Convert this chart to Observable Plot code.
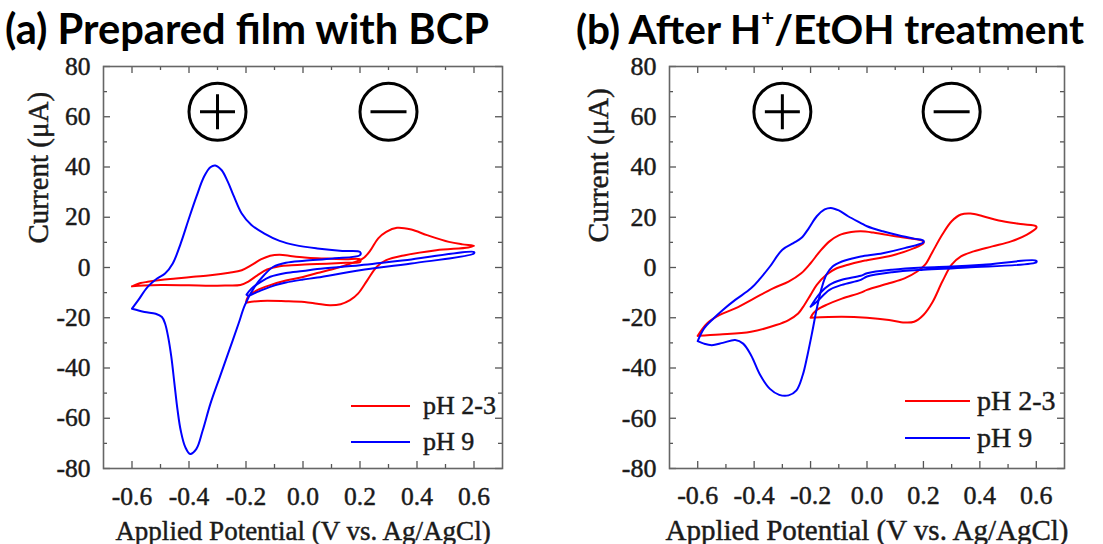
<!DOCTYPE html>
<html>
<head>
<meta charset="utf-8">
<script src="https://cdn.jsdelivr.net/npm/d3@7"></script>
<script src="https://cdn.jsdelivr.net/npm/@observablehq/plot@0.6"></script>
<style>
  html, body { margin: 0; padding: 0; background: #fff; }
  #root { position: relative; width: 1103px; height: 544px; overflow: hidden; background: #fff; }
  .chart { position: absolute; top: 50px; }
  .titles { position: absolute; left: 0; top: 0; pointer-events: none; }
</style>
</head>
<body>
<div id="root"></div>
<script>
// ---------------- data ----------------
const xMajor = [-0.6, -0.4, -0.2, 0, 0.2, 0.4, 0.6];
const xMinor = [-0.5, -0.3, -0.1, 0.1, 0.3, 0.5];
const yMajor = [-80, -60, -40, -20, 0, 20, 40, 60, 80];
const yMinor = [-70, -50, -30, -10, 10, 30, 50, 70];
const seriesNames = ["pH 2-3", "pH 9"];
const seriesColors = ["#ff0000", "#0000ff"];
const signX = [-0.3, 0.3];
const signY = [62, 62];
const signKinds = ["plus", "minus"];
const panelTitles = ["(a) Prepared film with BCP", "(b) After H+/EtOH treatment"];
const xTitle = "Applied Potential (V vs. Ag/AgCl)";
const yTitle = "Current (\u03bcA)";

// Panel (a): prepared film with BCP
const a_pH23_neg = [[-0.6,-7.5],[-0.57,-6.2],[-0.545,-5.7],[-0.5,-5.0],[-0.446,-4.4],[-0.385,-3.7],[-0.325,-3.1],[-0.259,-2.1],[-0.215,-1.1],[-0.181,0.9],[-0.148,3.2],[-0.115,4.7],[-0.082,5.1],[-0.038,4.5],[0.006,4.0],[0.05,3.7],[0.1,3.5],[0.15,3.3],[0.2,3.2],
  [0.2,2.2],[0.15,1.9],[0.1,1.6],[0.05,1.4],[0.006,1.2],[-0.04,0.9],[-0.082,0.5],[-0.126,-0.8],[-0.16,-3.1],[-0.193,-5.7],[-0.22,-7.0],[-0.27,-7.2],[-0.325,-7.3],[-0.4,-7.1],[-0.5,-7.0],[-0.56,-7.2],[-0.6,-7.5]];
const a_pH23_pos = [[-0.2,-14.0],[-0.193,-11.7],[-0.16,-9.0],[-0.115,-7.0],[-0.06,-5.2],[0.0,-3.8],[0.05,-2.2],[0.1,-0.8],[0.16,1.3],[0.193,2.6],[0.215,4.0],[0.237,6.9],[0.264,11.6],[0.292,14.2],[0.33,15.8],[0.38,15.1],[0.435,12.9],[0.512,10.2],[0.56,9.2],[0.6,8.6],
  [0.58,8.0],[0.468,6.9],[0.358,4.9],[0.292,2.9],[0.259,0.3],[0.226,-5.0],[0.193,-10.4],[0.165,-13.0],[0.132,-14.6],[0.094,-15.0],[0.05,-14.4],[0.005,-13.7],[-0.06,-13.4],[-0.148,-13.3],[-0.2,-14.0]];
const a_pH9_neg = [[-0.6,-16.4],[-0.578,-13.0],[-0.545,-7.7],[-0.512,-4.4],[-0.484,-2.4],[-0.457,1.6],[-0.429,9.6],[-0.402,18.9],[-0.374,28.2],[-0.347,36.2],[-0.325,39.9],[-0.308,40.6],[-0.286,38.8],[-0.264,34.2],[-0.242,28.2],[-0.215,21.5],[-0.181,16.9],[-0.137,13.6],[-0.082,10.6],[-0.027,8.9],[0.05,7.6],[0.138,6.6],[0.2,6.2],
  [0.2,4.9],[0.105,3.6],[0.005,2.7],[-0.06,1.9],[-0.104,0.3],[-0.137,-3.1],[-0.17,-7.7],[-0.204,-15.0],[-0.226,-22.3],[-0.259,-33.0],[-0.292,-43.6],[-0.325,-54.3],[-0.352,-64.9],[-0.374,-72.2],[-0.396,-74.2],[-0.413,-71.5],[-0.429,-64.9],[-0.44,-56.9],[-0.451,-46.3],[-0.462,-35.6],[-0.473,-27.7],[-0.484,-22.3],[-0.495,-19.7],[-0.517,-18.4],[-0.556,-17.7],[-0.6,-16.4]];
const a_pH9_pos = [[-0.198,-10.8],[-0.181,-8.4],[-0.148,-5.7],[-0.115,-3.7],[-0.06,-2.2],[0.0,-1.4],[0.05,-0.6],[0.2,0.9],[0.38,3.2],[0.6,6.2],
  [0.6,5.6],[0.38,1.6],[0.2,-1.1],[0.05,-4.0],[0.0,-4.8],[-0.06,-6.0],[-0.115,-7.7],[-0.16,-9.7],[-0.193,-11.2],[-0.198,-10.8]];

// Panel (b): after H+/EtOH treatment
const b_pH23_neg = [[-0.6,-27.2],[-0.567,-22.3],[-0.522,-18.9],[-0.467,-16.3],[-0.4,-12.3],[-0.333,-8.3],[-0.278,-5.6],[-0.233,-2.3],[-0.2,1.7],[-0.167,6.4],[-0.133,10.4],[-0.1,12.8],[-0.056,14.1],[-0.022,14.4],[0.022,13.9],[0.1,12.4],[0.2,10.4],
  [0.2,9.7],[0.167,7.7],[0.089,4.8],[0.0,2.9],[-0.022,2.4],[-0.067,1.1],[-0.111,-0.5],[-0.144,-2.9],[-0.178,-6.9],[-0.2,-10.9],[-0.222,-14.9],[-0.244,-18.3],[-0.278,-20.9],[-0.322,-22.9],[-0.411,-25.6],[-0.522,-26.7],[-0.6,-27.2]];
const b_pH23_pos = [[-0.2,-20.0],[-0.19,-18.2],[-0.178,-16.9],[-0.144,-14.9],[-0.089,-12.4],[-0.022,-10.0],[0.0,-8.9],[0.078,-6.3],[0.133,-4.3],[0.178,-1.6],[0.206,1.1],[0.233,6.4],[0.267,13.1],[0.3,18.4],[0.333,21.1],[0.367,21.5],[0.411,20.4],[0.467,18.7],[0.544,17.3],[0.6,16.4],
  [0.6,15.7],[0.567,13.1],[0.511,10.4],[0.444,8.4],[0.378,6.4],[0.333,4.4],[0.3,1.1],[0.267,-5.6],[0.233,-13.6],[0.2,-18.9],[0.167,-21.6],[0.133,-21.9],[0.078,-20.9],[0.0,-20.0],[-0.089,-19.6],[-0.2,-20.0]];
const b_pH9_neg = [[-0.6,-29.3],[-0.578,-24.3],[-0.544,-20.3],[-0.511,-16.9],[-0.467,-12.9],[-0.411,-8.3],[-0.378,-4.3],[-0.344,0.4],[-0.3,7.1],[-0.261,9.7],[-0.233,11.7],[-0.206,15.7],[-0.178,20.4],[-0.15,23.1],[-0.128,23.7],[-0.1,22.7],[-0.067,20.4],[-0.022,17.7],[0.0,16.4],[0.056,14.4],[0.111,12.8],[0.167,11.5],[0.2,10.7],
  [0.2,10.0],[0.133,7.7],[0.056,5.7],[-0.022,4.4],[-0.056,3.5],[-0.089,2.4],[-0.122,0.4],[-0.144,-2.9],[-0.161,-8.3],[-0.178,-16.3],[-0.194,-25.6],[-0.211,-34.9],[-0.228,-42.9],[-0.25,-48.9],[-0.278,-50.9],[-0.311,-50.7],[-0.344,-48.3],[-0.378,-42.9],[-0.411,-34.9],[-0.439,-30.3],[-0.467,-28.9],[-0.511,-30.0],[-0.55,-30.9],[-0.578,-30.3],[-0.6,-29.3]];
const b_pH9_pos = [[-0.2,-15.6],[-0.167,-10.3],[-0.133,-6.9],[-0.089,-4.9],[-0.022,-3.3],[0.0,-2.3],[0.089,-0.9],[0.2,0.0],[0.3,0.4],[0.411,1.1],[0.6,2.7],
  [0.6,2.1],[0.356,0.0],[0.2,-0.9],[0.089,-1.9],[0.0,-3.6],[-0.022,-4.9],[-0.089,-6.9],[-0.133,-8.9],[-0.178,-13.6],[-0.2,-15.6]];

// ---------------- build ----------------
function toRows(loops) {
  return loops.flatMap(([series, loop, pts]) => pts.map(([x, y]) => ({x, y, series, loop})));
}
const rowsA = toRows([[seriesNames[0], "neg", a_pH23_neg], [seriesNames[0], "pos", a_pH23_pos],
                      [seriesNames[1], "neg", a_pH9_neg], [seriesNames[1], "pos", a_pH9_pos]]);
const rowsB = toRows([[seriesNames[0], "neg", b_pH23_neg], [seriesNames[0], "pos", b_pH23_pos],
                      [seriesNames[1], "neg", b_pH9_neg], [seriesNames[1], "pos", b_pH9_pos]]);
const signs = signX.map((x, i) => ({x, y: signY[i], kind: signKinds[i]}));

const plusSymbol = {draw(ctx, size) { const r = Math.sqrt(size / Math.PI); ctx.moveTo(-r, 0); ctx.lineTo(r, 0); ctx.moveTo(0, -r); ctx.lineTo(0, r); }};
const minusSymbol = {draw(ctx, size) { const r = Math.sqrt(size / Math.PI); ctx.moveTo(-r, 0); ctx.lineTo(r, 0); }};

const serif = "Liberation Serif, Times New Roman, serif";
const textColor = "#1a1a1a";
const textStroke = 0.45;
const fmtX = d => d.toFixed(1);
const fmtY = d => String(d);

function legendMark(L) {
  return (index, scales, values, dims) => {
    const g = d3.create("svg:g");
    const right = dims.width - dims.marginRight;
    const bottom = dims.height - dims.marginBottom;
    seriesNames.forEach((name, i) => {
      const y = bottom + L.rows[i];
      g.append("line")
        .attr("x1", right + L.x1).attr("x2", right + L.x2)
        .attr("y1", y).attr("y2", y)
        .attr("stroke", seriesColors[i]).attr("stroke-width", 2);
      g.append("text")
        .attr("x", right + L.tx).attr("y", y).attr("dy", "0.32em")
        .attr("text-anchor", "start")
        .style("font-family", serif).style("font-size", L.fontSize + "px")
        .attr("fill", textColor).attr("stroke", textColor).attr("stroke-width", textStroke)
        .text(name);
    });
    return g.node();
  };
}

function makePanel(rows, P) {
  const innerW = P.width - P.marginLeft - P.marginRight;
  const innerH = P.height - P.marginTop - P.marginBottom;
  const tickColor = "#555";
  const txt = {fontFamily: serif, fill: textColor, stroke: textColor, strokeWidth: textStroke};
  return Plot.plot({
    width: P.width, height: P.height,
    marginTop: P.marginTop, marginBottom: P.marginBottom,
    marginLeft: P.marginLeft, marginRight: P.marginRight,
    style: {fontFamily: serif, fontSize: P.tickFont + "px", color: textColor, background: "transparent", overflow: "visible"},
    x: {domain: [-0.7, 0.7], axis: null},
    y: {domain: [-80, 80], axis: null},
    color: {domain: seriesNames, range: seriesColors},
    marks: [
      // inward ticks on all four sides
      Plot.tickX(xMajor, {x: d => d, insetTop: innerH - 7, stroke: tickColor, strokeWidth: 1.3}),
      Plot.tickX(xMinor, {x: d => d, insetTop: innerH - 4, stroke: tickColor, strokeWidth: 1.3}),
      Plot.tickX(xMajor, {x: d => d, insetBottom: innerH - 7, stroke: tickColor, strokeWidth: 1.3}),
      Plot.tickX(xMinor, {x: d => d, insetBottom: innerH - 4, stroke: tickColor, strokeWidth: 1.3}),
      Plot.tickY(yMajor, {y: d => d, insetRight: innerW - 7, stroke: tickColor, strokeWidth: 1.3}),
      Plot.tickY(yMinor, {y: d => d, insetRight: innerW - 4, stroke: tickColor, strokeWidth: 1.3}),
      Plot.tickY(yMajor, {y: d => d, insetLeft: innerW - 7, stroke: tickColor, strokeWidth: 1.3}),
      Plot.tickY(yMinor, {y: d => d, insetLeft: innerW - 4, stroke: tickColor, strokeWidth: 1.3}),
      Plot.frame({stroke: "#666", strokeWidth: 1.6}),
      // CV curves
      Plot.line(rows, {x: "x", y: "y", z: d => d.series + "/" + d.loop, stroke: "series",
                       strokeWidth: 2, curve: "catmull-rom"}),
      // circled + and − signs
      Plot.dot(signs, {x: "x", y: "y", r: 28.5, fill: "none", stroke: "black", strokeWidth: 3}),
      Plot.dot(signs.filter(d => d.kind === "plus"), {x: "x", y: "y", r: 17.5, symbol: plusSymbol, fill: "none", stroke: "black", strokeWidth: 3}),
      Plot.dot(signs.filter(d => d.kind === "minus"), {x: "x", y: "y", r: 18, symbol: minusSymbol, fill: "none", stroke: "black", strokeWidth: 3}),
      // tick labels (ticks themselves drawn inward above)
      Plot.text(xMajor, {x: d => d, text: fmtX, frameAnchor: "bottom", dy: P.xLabelDy, lineAnchor: "bottom",
                         fontSize: P.tickFont, ...txt}),
      Plot.text(yMajor, {y: d => d, text: fmtY, frameAnchor: "left", dx: -13, textAnchor: "end", lineAnchor: "middle",
                         fontSize: P.tickFont, ...txt}),
      // axis titles
      Plot.text([xTitle], {text: d => d, frameAnchor: "bottom", dy: 71, lineAnchor: "bottom",
                           fontSize: P.xTitleFont, ...txt}),
      Plot.text([yTitle], {text: d => d, frameAnchor: "left", dx: P.yTitleDx, dy: P.yTitleDy,
                           rotate: -90, lineAnchor: "middle", fontSize: P.yTitleFont, ...txt}),
      // legend
      legendMark(P.legend)
    ]
  });
}

const root = document.getElementById("root");

const panelA = {left: 0, width: 552, height: 494, marginTop: 16, marginBottom: 76, marginLeft: 103, marginRight: 50,
  tickFont: 25.5, xLabelDy: 36, xTitleFont: 27, yTitleFont: 29, yTitleDx: -65, yTitleDy: -24,
  legend: {rows: [-62, -26], x1: -151, x2: -92, tx: -79, fontSize: 26}};
const panelB = {left: 552, width: 551, height: 494, marginTop: 16, marginBottom: 76, marginLeft: 117, marginRight: 39,
  tickFont: 26, xLabelDy: 35, xTitleFont: 29, yTitleFont: 29.5, yTitleDx: -71, yTitleDy: -25,
  legend: {rows: [-67, -30], x1: -159, x2: -94, tx: -87, fontSize: 28}};

[[rowsA, panelA], [rowsB, panelB]].forEach(([rows, P]) => {
  const div = document.createElement("div");
  div.className = "chart";
  div.style.left = P.left + "px";
  div.style.width = P.width + "px";
  div.appendChild(makePanel(rows, P));
  root.appendChild(div);
});

// Panel titles (above the plots)
const titleSvg = d3.create("svg").attr("class", "titles").attr("width", 1103).attr("height", 56);
const titleFont = "Lato, 'Open Sans', 'DejaVu Sans', sans-serif";
const tA = titleSvg.append("text").attr("x", 5).attr("y", 44)
  .attr("font-family", titleFont).attr("font-weight", 700).attr("font-size", 40).attr("fill", "#000")
  .text(panelTitles[0]);
const partsB = panelTitles[1].split("+");
const tB = titleSvg.append("text").attr("x", 576).attr("y", 43.5)
  .attr("font-family", titleFont).attr("font-weight", 700).attr("font-size", 40).attr("fill", "#000");
tB.append("tspan").text(partsB[0]);
tB.append("tspan").attr("font-size", "55%").attr("dy", "-0.8em").text("+");
tB.append("tspan").attr("dy", "0.44em").text(partsB[1]);
root.appendChild(titleSvg.node());

function fitTitles() {
  [[tA, 484], [tB, 508]].forEach(([t, target]) => {
    const fs = +t.attr("font-size");
    const len = t.node().getComputedTextLength();
    if (len > 0) t.attr("font-size", (fs * target / len).toFixed(2));
  });
}
fitTitles();
if (document.fonts && document.fonts.ready) document.fonts.ready.then(fitTitles);
</script>
</body>
</html>
